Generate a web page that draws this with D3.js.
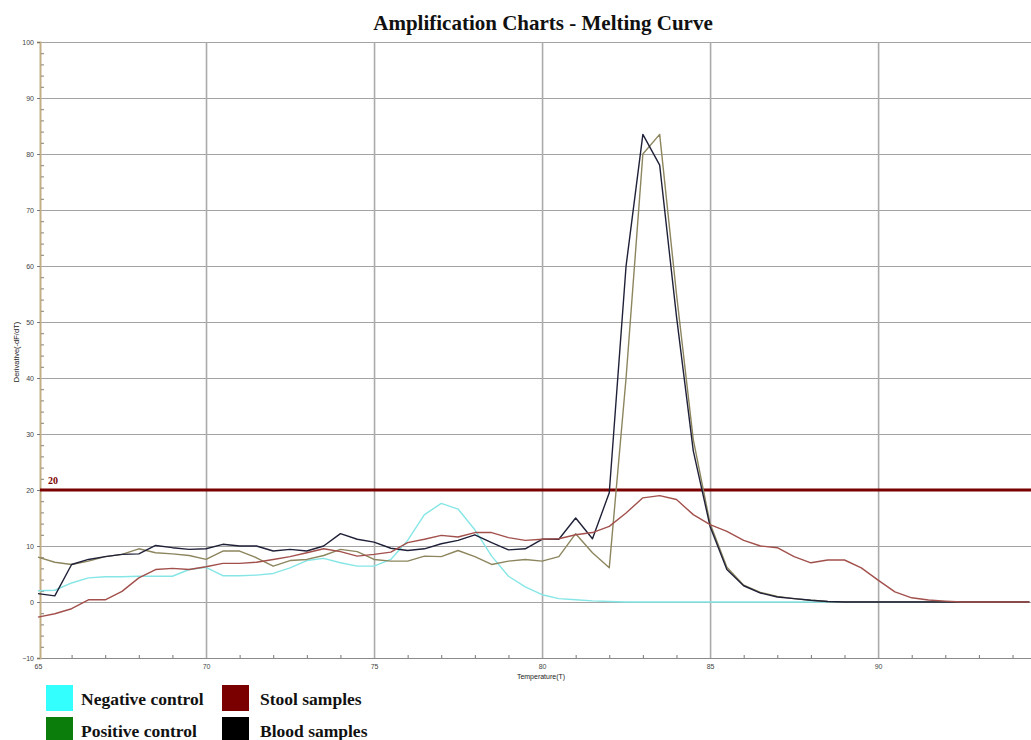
<!DOCTYPE html>
<html>
<head>
<meta charset="utf-8">
<script src="https://cdn.jsdelivr.net/npm/d3@7"></script>
<style>
  body { margin: 0; background: #fff; }
  svg { display: block; }
</style>
</head>
<body>
<svg></svg>
<script>
// Melting curve readings, one point every 0.5 degree
var temps = [65, 65.5, 66, 66.5, 67, 67.5, 68, 68.5, 69, 69.5,
  70, 70.5, 71, 71.5, 72, 72.5, 73, 73.5, 74, 74.5,
  75, 75.5, 76, 76.5, 77, 77.5, 78, 78.5, 79, 79.5,
  80, 80.5, 81, 81.5, 82, 82.5, 83, 83.5, 84, 84.5,
  85, 85.5, 86, 86.5, 87, 87.5, 88, 88.5, 89, 89.5,
  90, 90.5, 91, 91.5, 92, 92.5, 93, 93.5, 94, 94.5];

var negativeControl = [2.0, 2.1, 3.4, 4.3, 4.5, 4.5, 4.6, 4.6, 4.6, 5.8,
  6.2, 4.7, 4.7, 4.8, 5.1, 6.1, 7.4, 7.8, 7.0, 6.4,
  6.4, 7.6, 11.0, 15.6, 17.6, 16.6, 12.9, 8.2, 4.6, 2.7,
  1.3, 0.6, 0.4, 0.2, 0.1, 0, 0, 0, 0, 0,
  0, 0, 0, 0, 0, 0, 0, 0, 0, 0,
  0, 0, 0, 0, 0, 0, 0, 0, 0, 0];

var positiveControl = [8.0, 7.1, 6.7, 7.3, 8.1, 8.5, 9.5, 8.8, 8.6, 8.3,
  7.6, 9.1, 9.1, 7.9, 6.4, 7.4, 7.6, 8.3, 9.4, 9.0,
  7.6, 7.3, 7.3, 8.2, 8.1, 9.2, 8.1, 6.7, 7.3, 7.6,
  7.3, 8.1, 12.2, 8.8, 6.1, 40, 80, 83.5, 55, 29,
  14, 6.2, 3.0, 1.7, 1.0, 0.6, 0.3, 0.1, 0, 0,
  0, 0, 0, 0, 0, 0, 0, 0, 0, 0];

var bloodSamples = [1.5, 1.1, 6.7, 7.6, 8.1, 8.5, 8.6, 10.1, 9.7, 9.4,
  9.5, 10.3, 10.0, 10.0, 9.1, 9.4, 9.1, 10.0, 12.2, 11.2,
  10.7, 9.6, 9.2, 9.5, 10.4, 11.0, 12.0, 10.6, 9.3, 9.5,
  11.2, 11.2, 15.0, 11.3, 19.5, 60, 83.5, 78, 51, 27,
  13.5, 5.8, 2.9, 1.6, 0.9, 0.6, 0.3, 0.1, 0, 0,
  0, 0, 0, 0, 0, 0, 0, 0, 0, 0];

var stoolSamples = [-2.7, -2.1, -1.2, 0.4, 0.4, 1.9, 4.3, 5.8, 6.0, 5.8,
  6.3, 6.9, 6.9, 7.1, 7.6, 8.1, 8.8, 9.5, 9.0, 8.2,
  8.5, 8.9, 10.6, 11.2, 11.9, 11.6, 12.4, 12.4, 11.5, 11.0,
  11.2, 11.3, 12.0, 12.4, 13.5, 15.9, 18.6, 19.0, 18.3, 15.6,
  13.8, 12.6, 11.0, 10.0, 9.7, 8.1, 7.0, 7.5, 7.5, 6.1,
  3.9, 1.8, 0.75, 0.35, 0.15, 0, 0, 0, 0, 0];

var threshold = 20;

var xTicks = [65, 70, 75, 80, 85, 90],
    yTicks = [-10, 0, 10, 20, 30, 40, 50, 60, 70, 80, 90, 100];

var legendNames = ['Negative control', 'Positive control', 'Stool samples', 'Blood samples'],
    legendColors = ['#33ffff', '#0b7d0b', '#7a0000', '#000000'];

var svg = d3.select('svg'),
    width = 1031,
    height = 740,
    plotLeft = 40,
    plotTop = 42,
    plotBottom = 658;

svg.attr('width', width)
svg.attr('height', height)

var x = d3.scaleLinear().domain([65, 94.55]).range([38, width]),
    y = d3.scaleLinear().domain([-10, 100]).range([plotBottom, plotTop]);

// Title
svg.append('text')
    .attr('x', 543)
    .attr('y', 30)
    .attr('text-anchor', 'middle')
    .attr('font-family', 'Liberation Serif, serif')
    .attr('font-weight', 'bold')
    .attr('font-size', 21)
    .attr('fill', '#111')
    .text('Amplification Charts - Melting Curve')

// Horizontal grid
svg.append('g')
    .attr('transform', `translate( ${plotLeft}, 0 )`)
    .call(d3.axisLeft(y).tickValues(yTicks.slice(1)).tickSize(-(width - plotLeft)).tickFormat(''))
    .call(g => g.select('.domain').remove())
    .selectAll('line')
    .attr('stroke', '#a3a3a3')
    .attr('stroke-width', 1.2)

// Vertical grid
svg.append('g')
    .attr('transform', `translate( 0, ${plotBottom} )`)
    .call(d3.axisBottom(x).tickValues(xTicks.slice(1)).tickSize(-(plotBottom - plotTop)).tickFormat(''))
    .call(g => g.select('.domain').remove())
    .selectAll('line')
    .attr('stroke', '#ababab')
    .attr('stroke-width', 1.6)

// X axis with labels
var xAxis = svg.append('g')
    .attr('transform', `translate( 0, ${plotBottom} )`)
    .call(d3.axisBottom(x).tickValues(xTicks).tickSize(0).tickPadding(6))
xAxis.select('.domain').attr('stroke', '#8a8a8a').attr('stroke-width', 1.2)
xAxis.selectAll('text')
    .attr('font-family', 'Liberation Sans, Arial, sans-serif')
    .attr('font-size', 7)
    .attr('fill', '#444')

// X minor ticks, pointing up
svg.append('g')
    .attr('transform', `translate( 0, ${plotBottom} )`)
    .call(d3.axisTop(x).tickValues(d3.range(66, 95).filter(v => v % 5 != 0)).tickSize(3).tickFormat(''))
    .call(g => g.select('.domain').remove())
    .selectAll('line')
    .attr('stroke', '#777')

svg.append('text')
    .attr('x', 541)
    .attr('y', 679)
    .attr('text-anchor', 'middle')
    .attr('font-family', 'Liberation Sans, Arial, sans-serif')
    .attr('font-size', 7)
    .attr('fill', '#222')
    .text('Temperature(T)')

// Y axis with labels
var yAxis = svg.append('g')
    .attr('transform', `translate( ${plotLeft}, 0 )`)
    .call(d3.axisLeft(y).tickValues(yTicks).tickSize(3).tickPadding(3))
yAxis.select('.domain').attr('stroke', '#c4ae84').attr('stroke-width', 2)
yAxis.selectAll('line').attr('stroke', '#777')
yAxis.selectAll('text')
    .attr('font-family', 'Liberation Sans, Arial, sans-serif')
    .attr('font-size', 7)
    .attr('fill', '#444')

// Y minor ticks every 2
svg.append('g')
    .attr('transform', `translate( ${plotLeft + 1}, 0 )`)
    .call(d3.axisRight(y).tickValues(d3.range(-8, 100, 2).filter(v => v % 10 != 0)).tickSize(3).tickFormat(''))
    .call(g => g.select('.domain').remove())
    .selectAll('line')
    .attr('stroke', '#8a8070')

svg.append('text')
    .attr('transform', 'translate( 19, 352 ) rotate( -90 )')
    .attr('text-anchor', 'middle')
    .attr('font-family', 'Liberation Sans, Arial, sans-serif')
    .attr('font-size', 7.5)
    .attr('fill', '#222')
    .text('Derivative(-dF/dT)')

// Threshold line
svg.append('line')
    .attr('x1', plotLeft)
    .attr('x2', width)
    .attr('y1', y(threshold))
    .attr('y2', y(threshold))
    .attr('stroke', '#7b0000')
    .attr('stroke-width', 3)

svg.append('text')
    .attr('x', 48)
    .attr('y', y(threshold) - 6)
    .attr('font-family', 'Liberation Serif, serif')
    .attr('font-weight', 'bold')
    .attr('font-size', 10)
    .attr('fill', '#7b0000')
    .text(threshold)

// Curves
var line = d3.line()
    .x(function(d) { return x(d[0]); })
    .y(function(d) { return y(d[1]); });

var series = [
  { values: negativeControl, color: '#86e6e6' },
  { values: positiveControl, color: '#8c855e' },
  { values: bloodSamples, color: '#1f2138' },
  { values: stoolSamples, color: '#a2504c' }
];

svg.append('g')
    .selectAll('path')
    .data(series)
    .enter()
    .append('path')
    .attr('fill', 'none')
    .attr('stroke', d => d.color)
    .attr('stroke-width', 1.4)
    .attr('stroke-linejoin', 'round')
    .attr('d', d => line(temps.map((t, i) => [t, d.values[i]])))

// Legend, two columns
var legend = svg.append('g')
    .selectAll('g')
    .data(legendNames)
    .enter()
    .append('g')
    .attr('transform', (d, i) => `translate( ${i < 2 ? 46 : 222}, ${i % 2 == 0 ? 685 : 717} )`)

legend.append('rect')
    .attr('width', 27)
    .attr('height', 26)
    .attr('fill', (d, i) => legendColors[i])

legend.append('text')
    .attr('x', (d, i) => i < 2 ? 35 : 38)
    .attr('y', 20)
    .attr('font-family', 'Liberation Serif, serif')
    .attr('font-weight', 'bold')
    .attr('font-size', 17.5)
    .attr('fill', '#111')
    .text(d => d)
</script>
</body>
</html>
